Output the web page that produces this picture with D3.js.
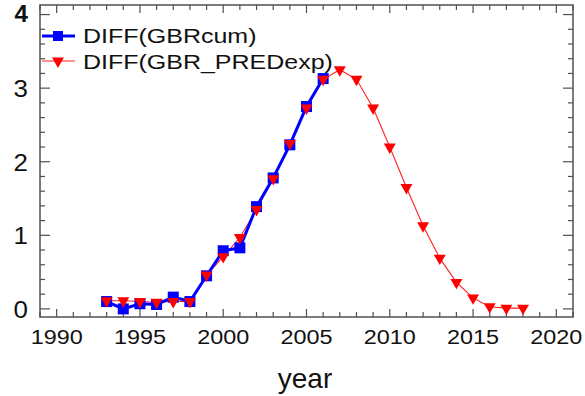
<!DOCTYPE html>
<html>
<head>
<meta charset="utf-8">
<script src="https://cdn.jsdelivr.net/npm/d3@7"></script>
<style>
  body { margin: 0; background: #fff; }
  text { font-family: "Liberation Sans", Arial, sans-serif; fill: #111; }
</style>
</head>
<body>
<svg id="chart" width="585" height="396"></svg>
<script>
// data
const yearsCum = d3.range(1993, 2007);
const gbrCum = [0.10, 0.00, 0.07, 0.06, 0.16, 0.10, 0.45, 0.79, 0.83, 1.39, 1.78, 2.23, 2.75, 3.13];
const yearsPred = d3.range(1993, 2019);
const gbrPred = [0.11, 0.11, 0.10, 0.09, 0.10, 0.10, 0.46, 0.71, 0.97, 1.35, 1.77, 2.25, 2.73, 3.12,
                 3.25, 3.12, 2.73, 2.20, 1.65, 1.13, 0.69, 0.36, 0.15, 0.03, 0.01, 0.01];
const xTicks = [1990, 1995, 2000, 2005, 2010, 2015, 2020];
const yTicks = [0, 1, 2, 3, 4];
const seriesNames = ["DIFF(GBRcum)", "DIFF(GBR_PREDexp)"];

const svg = d3.select("#chart");
const pLeft = 40, pRight = 573, pTop = 5, pBottom = 317;

const x = d3.scaleLinear().domain([1989, 2021]).range([pLeft, pRight]);
const y = d3.scaleLinear().domain([-0.11, 4.13]).range([pBottom, pTop]);

const axisColor = "#505050";

// text that is a bit wider than normal, like the original
function wideText(parent, tx, ty, str, size, sx, anchor, weight) {
  parent.append("g")
    .attr("transform", `translate(${tx},${ty}) scale(${sx},1)`)
    .append("text")
    .attr("text-anchor", anchor || "start")
    .attr("font-size", size)
    .attr("font-weight", weight || "normal")
    .text(str);
}

// frame
svg.append("rect")
  .attr("x", pLeft).attr("y", pTop)
  .attr("width", pRight - pLeft).attr("height", pBottom - pTop)
  .attr("fill", "none").attr("stroke", axisColor).attr("stroke-width", 1.5);

// ticks on all 4 sides, pointing inward
const g = svg.append("g").attr("stroke", axisColor).attr("stroke-width", 1.2);
d3.range(1989, 2022).forEach(yr => {
  const len = yr % 5 === 0 ? 8 : 5;
  g.append("line").attr("x1", x(yr)).attr("x2", x(yr)).attr("y1", pBottom).attr("y2", pBottom - len);
  g.append("line").attr("x1", x(yr)).attr("x2", x(yr)).attr("y1", pTop).attr("y2", pTop + len);
});
d3.range(0, 21).map(i => i * 0.2).forEach(v => {
  const major = Math.abs(v - Math.round(v)) < 1e-6;
  const len = major ? 10 : 5;
  g.append("line").attr("x1", pLeft).attr("x2", pLeft + len).attr("y1", y(v)).attr("y2", y(v));
  g.append("line").attr("x1", pRight).attr("x2", pRight - len).attr("y1", y(v)).attr("y2", y(v));
});

// tick labels
const xl = svg.append("g");
xTicks.forEach(d => wideText(xl, x(d), 344, d, 19.5, 1.2, "middle"));
const yl = svg.append("g");
yTicks.forEach(d => {
  if (d === 4) {
    wideText(yl, 28, 22, d, 23, 1.05, "end", "bold");
  } else {
    wideText(yl, 28, y(d) + 9, d, 24, 1.08, "end");
  }
});

svg.append("text")
  .attr("x", 305).attr("y", 388)
  .attr("text-anchor", "middle").attr("font-size", 28)
  .text("year");

const tri = d3.symbol().type(d3.symbolTriangle).size(62);

// red predicted series
svg.append("path")
  .datum(yearsPred.map((yr, i) => [yr, gbrPred[i]]))
  .attr("fill", "none").attr("stroke", "#ff2020").attr("stroke-width", 1.1)
  .attr("d", d3.line().x(d => x(d[0])).y(d => y(d[1])));

// blue cumulative series
svg.append("path")
  .datum(yearsCum.map((yr, i) => [yr, gbrCum[i]]))
  .attr("fill", "none").attr("stroke", "#0000ff").attr("stroke-width", 3)
  .attr("d", d3.line().x(d => x(d[0])).y(d => y(d[1])));

svg.append("g").selectAll("rect").data(yearsCum.map((yr, i) => [yr, gbrCum[i]])).join("rect")
  .attr("x", d => x(d[0]) - 5.5).attr("y", d => y(d[1]) - 5.5)
  .attr("width", 11).attr("height", 11).attr("fill", "#0000ff");

svg.append("g").selectAll("path").data(yearsPred.map((yr, i) => [yr, gbrPred[i]])).join("path")
  .attr("transform", d => `translate(${x(d[0])},${y(d[1])}) rotate(180)`)
  .attr("d", tri).attr("fill", "#ff0000");

// legend
const lg = svg.append("g");
lg.append("line").attr("x1", 42).attr("x2", 75).attr("y1", 36).attr("y2", 36)
  .attr("stroke", "#0000ff").attr("stroke-width", 3);
lg.append("rect").attr("x", 53).attr("y", 31).attr("width", 10).attr("height", 10).attr("fill", "#0000ff");
lg.append("line").attr("x1", 42).attr("x2", 75).attr("y1", 61).attr("y2", 61)
  .attr("stroke", "#ff2020").attr("stroke-width", 1.1);
lg.append("path").attr("transform", "translate(58,61) rotate(180)").attr("d", tri).attr("fill", "#ff0000");
seriesNames.forEach((d, i) => wideText(lg, 83, 43 + i * 26, d, 21, 1.19));
</script>
</body>
</html>
